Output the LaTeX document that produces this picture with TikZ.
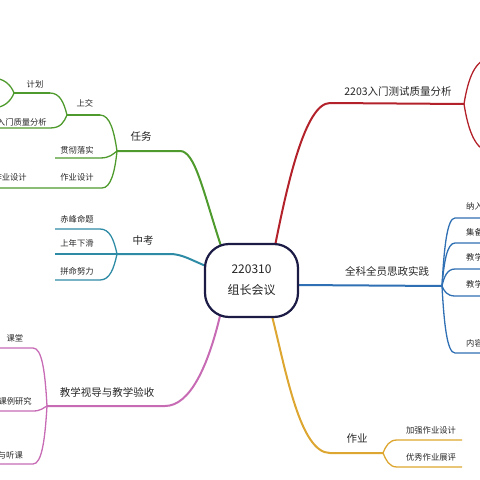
\documentclass[tikz,border=0pt]{standalone}
\usepackage{fontspec}
\setmainfont{Noto Sans CJK SC}
\usetikzlibrary{positioning}
\definecolor{hubnavy}{HTML}{1B1B45}
\definecolor{textgray}{HTML}{262626}
\definecolor{redline}{HTML}{B3222A}
\definecolor{greenline}{HTML}{4E9A2C}
\definecolor{tealline}{HTML}{2E8BA5}
\definecolor{pinkline}{HTML}{C76BB5}
\definecolor{blueline}{HTML}{2F6FB3}
\definecolor{yellowline}{HTML}{DDA630}

\begin{document}
\begin{tikzpicture}[
  x=1pt, y=-1pt,
  hub/.style={rectangle, draw=hubnavy, fill=white, line width=2.2pt, rounded corners=24pt, minimum width=93pt, minimum height=73pt, align=center, text=textgray, font=\fontsize{12}{21}\selectfont},
  topic/.style={inner sep=0pt, text=textgray, font=\fontsize{10.5}{12}\selectfont},
  leaf/.style={inner sep=0pt, text=textgray, font=\fontsize{8.3}{10}\selectfont},
  limb/.style={line width=2pt, line cap=round},
  twig/.style={line width=1.3pt}
]
  \useasboundingbox (0,0) rectangle (480,480);
  \clip (0,0) rectangle (480,480);

  % red: 2203 test analysis
  \coordinate (rS) at (275,246);
  \coordinate (rA) at (330,103);
  \coordinate (rJ) at (464,104);
  \coordinate (rU) at (492,58);
  \coordinate (rD) at (492,152);
  \node[topic] (rT) at (398,92) {2203入门测试质量分析};
  \draw[limb, redline] (rS) .. controls +(12,-60) and +(-25,0) .. (rA) -- (rJ);
  \draw[twig, redline] (rJ) .. controls +(4,-25) and +(-17,0) .. (rU);
  \draw[twig, redline] (rJ) .. controls +(4,25) and +(-17,0) .. (rD);

  % green: tasks
  \coordinate (gS) at (221,246);
  \coordinate (gA) at (180,151);
  \coordinate (gJ) at (117,151);
  \coordinate (gsA) at (100,115);
  \coordinate (gsJ) at (67,115);
  \coordinate (gpA) at (50,93);
  \coordinate (gpJ) at (14,93);
  \coordinate (gp1) at (-8,78);
  \coordinate (gp2) at (-8,108);
  \coordinate (gqA) at (50,128);
  \coordinate (gqB) at (-10,128);
  \coordinate (gcA) at (100,158);
  \coordinate (gcB) at (55,158);
  \coordinate (gzA) at (102,188);
  \coordinate (gzB) at (-10,188);
  \node[topic] (gT) at (141,137) {任务};
  \node[leaf] (gsT) at (85,103) {上交};
  \node[leaf] (gpT) at (35,84) {计划};
  \node[leaf, anchor=east] (gqT) at (47,122) {入门质量分析};
  \node[leaf] (gcT) at (77,150) {贯彻落实};
  \node[leaf] (gzT) at (77,177) {作业设计};
  \node[leaf, anchor=east] (gzzT) at (27,177) {作业设计};
  \draw[limb, greenline] (gS) .. controls +(-18,-55) and +(15,0) .. (gA) -- (gJ);
  \draw[twig, greenline] (gsA) .. controls +(10,0) and +(-3,-20) .. (gJ);
  \draw[twig, greenline] (gsA) -- (gsJ);
  \draw[twig, greenline] (gpA) .. controls +(10,0) and +(-3,-12) .. (gsJ);
  \draw[twig, greenline] (gpA) -- (gpJ);
  \draw[twig, greenline] (gp1) .. controls +(12,0) and +(-3,-8) .. (gpJ);
  \draw[twig, greenline] (gp2) .. controls +(12,0) and +(-3,8) .. (gpJ);
  \draw[twig, greenline] (gqB) -- (gqA) .. controls +(11,0) and +(-3,7) .. (gsJ);
  \draw[twig, greenline] (gcB) -- (gcA) .. controls +(10,0) and +(-4,3) .. (gJ);
  \draw[twig, greenline] (gzB) -- (gzA) .. controls +(9,0) and +(-2,20) .. (gJ);

  % teal: exam
  \coordinate (tS) at (206,266);
  \coordinate (tA) at (170,254);
  \coordinate (tJ) at (117,254);
  \coordinate (t1A) at (100,229);
  \coordinate (t1B) at (55,229);
  \coordinate (t2B) at (55,254);
  \coordinate (t3A) at (100,280);
  \coordinate (t3B) at (55,280);
  \node[topic] (tT) at (143,241) {中考};
  \node[leaf] (t1T) at (77,219) {赤峰命题};
  \node[leaf] (t2T) at (77,243) {上年下滑};
  \node[leaf] (t3T) at (77,271) {拼命努力};
  \draw[limb, tealline] (tS) .. controls +(-15,-6) and +(12,0) .. (tA) -- (tJ);
  \draw[twig, tealline] (t1B) -- (t1A) .. controls +(10,0) and +(-3,-14) .. (tJ);
  \draw[twig, tealline] (t2B) -- (tJ);
  \draw[twig, tealline] (t3B) -- (t3A) .. controls +(10,0) and +(-3,14) .. (tJ);

  % pink: inspection
  \coordinate (pS) at (220,316);
  \coordinate (pA) at (165,406);
  \coordinate (pJ) at (47,406);
  \coordinate (p1A) at (33,348);
  \coordinate (p1B) at (-10,348);
  \coordinate (p2A) at (33,411);
  \coordinate (p2B) at (-10,411);
  \coordinate (p3A) at (33,464);
  \coordinate (p3B) at (-10,464);
  \node[topic] (pT) at (107,392) {教学视导与教学验收};
  \node[leaf] (p1T) at (15,338) {课堂};
  \node[leaf, anchor=east] (p2T) at (32,401) {课例研究};
  \node[leaf, anchor=east] (p3T) at (23,455) {磨课与听课};
  \draw[limb, pinkline] (pS) .. controls +(-12,50) and +(25,0) .. (pA) -- (pJ);
  \draw[twig, pinkline] (p1B) -- (p1A) .. controls +(9,0) and +(-2,-35) .. (pJ);
  \draw[twig, pinkline] (p2B) -- (p2A) .. controls +(8,0) and +(-4,2) .. (pJ);
  \draw[twig, pinkline] (p3B) -- (p3A) .. controls +(9,0) and +(-2,33) .. (pJ);

  % blue: practice
  \coordinate (bS) at (297,285);
  \coordinate (bJ) at (442,286);
  \node[topic] (bT) at (387,271) {全科全员思政实践};
  \draw[limb, blueline] (bS) -- (bJ);
  \foreach \yy/\ty/\lbl/\dy [count=\i] in {218/206/纳入/-37, 243/232/集备/-24, 269/257/教学/-9, 296/284/教学/5, 353/343/内容/37} {
    \coordinate (b\i A) at (455,\yy);
    \coordinate (b\i B) at (490,\yy);
    \node[leaf, anchor=west] (b\i T) at (466,\ty) {\lbl};
    \draw[twig, blueline] (bJ) .. controls +(2,\dy) and +(-8,0) .. (b\i A) -- (b\i B);
  }

  % yellow: homework
  \coordinate (yS) at (272,316);
  \coordinate (yA) at (330,453);
  \coordinate (yJ) at (383,453);
  \coordinate (y1A) at (397,440);
  \coordinate (y1B) at (462,440);
  \coordinate (y2A) at (397,467);
  \coordinate (y2B) at (462,467);
  \node[topic] (yT) at (357,439) {作业};
  \node[leaf] (y1T) at (431,430) {加强作业设计};
  \node[leaf] (y2T) at (431,457) {优秀作业展评};
  \draw[limb, yellowline] (yS) .. controls +(14,55) and +(-30,0) .. (yA) -- (yJ);
  \draw[twig, yellowline] (yJ) .. controls +(3,-7) and +(-8,0) .. (y1A) -- (y1B);
  \draw[twig, yellowline] (yJ) .. controls +(3,7) and +(-8,0) .. (y2A) -- (y2B);

  \node[hub] (hub) at (251.5,280.5) {220310\\组长会议};
\end{tikzpicture}
\end{document}
